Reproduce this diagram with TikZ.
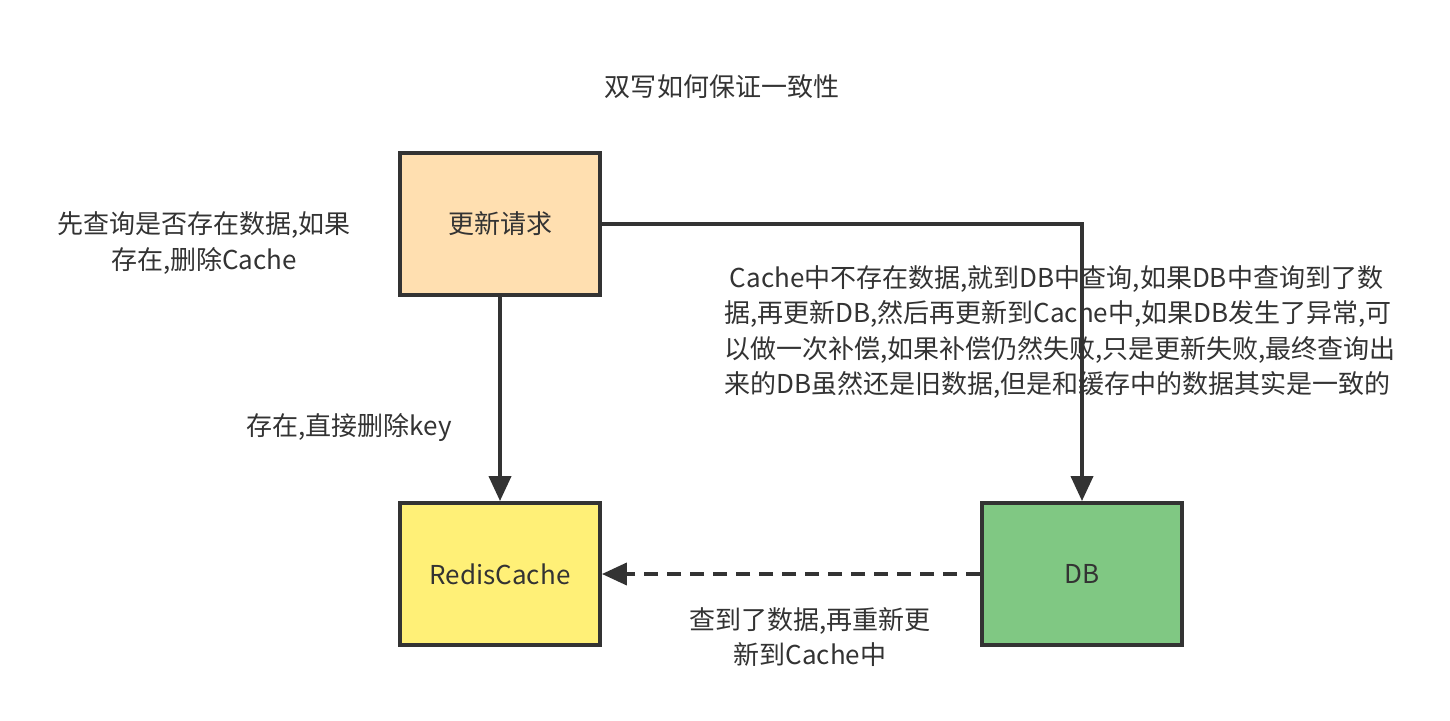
\documentclass[tikz,border=0pt]{standalone}
\usepackage{fontspec}
\setmainfont{Noto Sans CJK SC}
\usetikzlibrary{arrows.meta}
\definecolor{edge}{HTML}{333333}
\definecolor{reqfill}{HTML}{FFDFB0}
\definecolor{cachefill}{HTML}{FFF077}
\definecolor{dbfill}{HTML}{80C883}
\tikzset{box/.style={rectangle,draw=edge,line width=2.2pt,minimum width=4cm,minimum height=2.84cm,text=edge},
         note/.style={text=edge,align=center,font=\fontsize{14.8pt}{20pt}\selectfont},
         arrow/.style={draw=edge,line width=2.2pt,-{Triangle[length=0.5cm,width=0.44cm]}}}

\begin{document}
\begin{tikzpicture}[x=0.02cm,y=-0.02cm]
            \useasboundingbox[fill=white] (0,0) rectangle (1450,720);

            \node[box,fill=reqfill,font=\fontsize{14.8pt}{20pt}\selectfont] (req) at (500,224) {更新请求};
            \node[box,fill=cachefill,font=\fontsize{14.8pt}{20pt}\selectfont] (cache) at (500,574) {RedisCache};
            \node[box,fill=dbfill,font=\fontsize{14.8pt}{20pt}\selectfont] (db) at (1082,574) {DB};

            \node[note] (title) at (722,87) {双写如何保证一致性};
            \node[note] (check) at (204,243) {先查询是否存在数据,如果\\存在,删除Cache};
            \node[note] (del) at (349,428) {存在,直接删除key};
            \node[note,align=left] (miss) at (1060,332) {\ Cache中不存在数据,就到DB中查询,如果DB中查询到了数\\据,再更新DB,然后再更新到Cache中,如果DB发生了异常,可\\以做一次补偿,如果补偿仍然失败,只是更新失败,最终查询出\\来的DB虽然还是旧数据,但是和缓存中的数据其实是一致的};
            \node[note] (found) at (810,637) {查到了数据,再重新更\\新到Cache中};

            \draw[arrow] (req.south) -- (cache.north);
            \draw[arrow] (req.east) -| (db.north);
            \draw[arrow,dash pattern=on 0.28cm off 0.18cm] (db.west) -- (cache.east);
        \end{tikzpicture}
\end{document}
